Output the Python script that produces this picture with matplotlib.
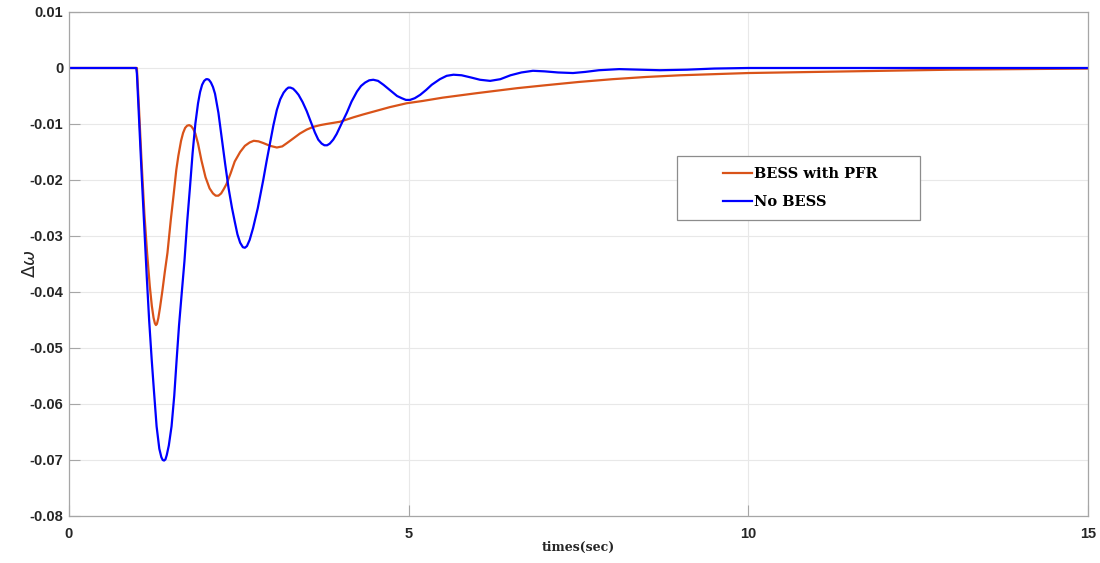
import matplotlib
matplotlib.use('Agg')
import matplotlib.pyplot as plt
from matplotlib.patches import Rectangle

plt.rcParams['axes.unicode_minus'] = False

# BESS with PFR (orange)
t_pfr = [0, 0.5, 1.0, 1.03, 1.07, 1.11, 1.15, 1.19, 1.22, 1.245, 1.265, 1.28, 1.295,
         1.315, 1.34, 1.375, 1.41, 1.45, 1.50, 1.54, 1.58, 1.61, 1.65, 1.68, 1.71,
         1.74, 1.77, 1.80, 1.83, 1.86, 1.90, 1.95, 2.01, 2.07, 2.12, 2.16, 2.20, 2.24,
         2.28, 2.32, 2.38, 2.44, 2.52, 2.59, 2.66, 2.72, 2.79, 2.86, 2.96, 3.06, 3.14,
         3.21, 3.30, 3.40, 3.50, 3.60, 3.70, 3.79, 3.89, 3.99, 4.09, 4.19, 4.33, 4.48,
         4.72, 4.97, 5.2, 5.5, 6.0, 6.6, 7.0, 7.5, 8.0, 8.5, 9.0, 10.0, 11.0, 12.0,
         13.0, 14.0, 15.0]
dw_pfr = [0, 0, 0, -0.007, -0.017, -0.026, -0.033, -0.039, -0.0425, -0.0446, -0.0456,
          -0.0459, -0.0457, -0.0447, -0.0428, -0.0398, -0.0365, -0.0330, -0.0270,
          -0.0227, -0.0182, -0.0157, -0.0130, -0.0116, -0.0107, -0.0103, -0.0102,
          -0.0104, -0.0109, -0.0117, -0.0135, -0.0165, -0.0195, -0.0215, -0.0224,
          -0.0228, -0.0228, -0.0224, -0.0216, -0.0207, -0.0188, -0.0167, -0.0150,
          -0.0139, -0.0133, -0.0130, -0.0131, -0.0134, -0.0139, -0.0142, -0.0140,
          -0.0134, -0.0126, -0.0117, -0.0110, -0.0105, -0.0102, -0.0100, -0.0098,
          -0.0096, -0.0092, -0.0088, -0.0083, -0.0078, -0.0070, -0.0063, -0.0059,
          -0.0053, -0.0045, -0.0036, -0.0031, -0.0025, -0.0020, -0.0016, -0.0013,
          -0.0009, -0.0007, -0.0005, -0.0003, -0.0002, -0.0001]

# No BESS (blue)
t_nob = [0, 0.5, 0.99, 1.0, 1.07, 1.144, 1.18, 1.218, 1.25, 1.29, 1.33, 1.36, 1.38,
         1.40, 1.42, 1.44, 1.47, 1.51, 1.55, 1.585, 1.62, 1.66, 1.70, 1.74, 1.78,
         1.82, 1.86, 1.90, 1.93, 1.96, 1.99, 2.02, 2.04, 2.06, 2.09, 2.12, 2.15, 2.20,
         2.25, 2.30, 2.35, 2.40, 2.44, 2.48, 2.52, 2.56, 2.59, 2.62, 2.66, 2.71, 2.78,
         2.86, 2.91, 2.96, 3.01, 3.06, 3.11, 3.16, 3.20, 3.23, 3.26, 3.30, 3.34, 3.38,
         3.44, 3.50, 3.56, 3.62, 3.67, 3.72, 3.76, 3.80, 3.84, 3.89, 3.94, 4.01, 4.09,
         4.16, 4.24, 4.30, 4.36, 4.42, 4.48, 4.55, 4.63, 4.73, 4.83, 4.90, 4.96, 5.02,
         5.09, 5.17, 5.26, 5.34, 5.46, 5.56, 5.66, 5.78, 5.92, 6.05, 6.20, 6.35, 6.50,
         6.66, 6.83, 7.0, 7.2, 7.42, 7.6, 7.8, 8.1, 8.4, 8.7, 9.1, 9.5, 10.0, 11.0,
         12.0, 13.0, 14.0, 15.0]
dw_nob = [0, 0, 0, -0.001, -0.019, -0.037, -0.045, -0.0521, -0.0575, -0.0640, -0.0680,
          -0.0695, -0.0700, -0.0701, -0.0699, -0.0691, -0.0674, -0.0640, -0.0585,
          -0.0521, -0.0460, -0.0402, -0.0345, -0.0275, -0.0215, -0.0152, -0.0100,
          -0.0063, -0.0043, -0.0030, -0.0023, -0.0020, -0.0020, -0.0021, -0.0026,
          -0.0034, -0.0046, -0.0080, -0.0126, -0.0172, -0.0215, -0.0250, -0.0274,
          -0.0297, -0.0312, -0.0320, -0.0321, -0.0318, -0.0307, -0.0286, -0.0250,
          -0.0200, -0.0166, -0.0134, -0.0102, -0.0075, -0.0056, -0.0044, -0.0038,
          -0.0035, -0.0035, -0.0037, -0.0042, -0.0048, -0.0061, -0.0077, -0.0096,
          -0.0115, -0.0128, -0.0135, -0.0138, -0.0138, -0.0135, -0.0128, -0.0118,
          -0.0100, -0.0080, -0.0060, -0.0042, -0.0032, -0.0026, -0.0022, -0.0021,
          -0.0023, -0.0030, -0.0040, -0.0050, -0.0054, -0.0057, -0.0057, -0.0054,
          -0.0048, -0.0039, -0.0030, -0.0020, -0.0014, -0.0012, -0.0013, -0.0017,
          -0.0021, -0.0023, -0.0020, -0.0013, -0.0008, -0.0005, -0.0006, -0.0008,
          -0.0009, -0.0007, -0.0004, -0.0002, -0.0003, -0.0004, -0.0003, -0.0001, 0,
          0, 0, 0, 0, 0]

xticks = [0, 5, 10, 15]
yticks = [-0.08, -0.07, -0.06, -0.05, -0.04, -0.03, -0.02, -0.01, 0, 0.01]
ytick_labels = ['-0.08', '-0.07', '-0.06', '-0.05', '-0.04', '-0.03', '-0.02', '-0.01', '0', '0.01']

fig = plt.figure(figsize=(11, 5.63), dpi=100)
ax = fig.add_axes([0.0627, 0.0835, 0.9263, 0.8952])

ax.plot(t_pfr, dw_pfr, color='#D95319', lw=1.6, label='BESS with PFR')
ax.plot(t_nob, dw_nob, color='#0000FF', lw=1.6, label='No BESS')

ax.set_xlim(0, 15)
ax.set_ylim(-0.08, 0.01)
ax.set_xticks(xticks)
ax.set_xticklabels([str(x) for x in xticks])
ax.set_yticks(yticks)
ax.set_yticklabels(ytick_labels)

ax.grid(True, color='#e8e8e8', lw=0.8)
ax.set_axisbelow(True)
for s in ax.spines.values():
    s.set_color('#a6a6a6')
    s.set_linewidth(0.9)
ax.tick_params(direction='in', length=8, width=0.8, color='#a6a6a6',
               labelcolor='#262626', labelsize=10.5, top=False, right=False)
ax.tick_params(axis='x', pad=8)
ax.tick_params(axis='y', pad=4)
for lab in ax.get_xticklabels() + ax.get_yticklabels():
    lab.set_fontweight('bold')
    lab.set_family('Liberation Sans')

ax.set_xlabel('times(sec)', family='DejaVu Serif', fontweight='bold', fontsize=9,
              color='#262626', labelpad=0)
ax.set_ylabel(r'$\Delta\omega$', fontsize=13, color='#262626')
ax.yaxis.set_label_coords(-0.029, 0.5)

# legend box, then the entries inside it
ax.add_patch(Rectangle((0.597, 0.587), 0.238, 0.127, transform=ax.transAxes,
                       facecolor='white', edgecolor='#8c8c8c', lw=0.9, zorder=4))
leg = ax.legend(loc='center left', bbox_to_anchor=(0.642, 0.651), frameon=False,
                prop={'family': 'DejaVu Serif', 'weight': 'bold', 'size': 10.5},
                handlelength=2.0, handletextpad=0.1, labelspacing=0.95,
                borderpad=0, borderaxespad=0)
leg.set_zorder(5)

fig.savefig('out.png', dpi=100, facecolor='white')
